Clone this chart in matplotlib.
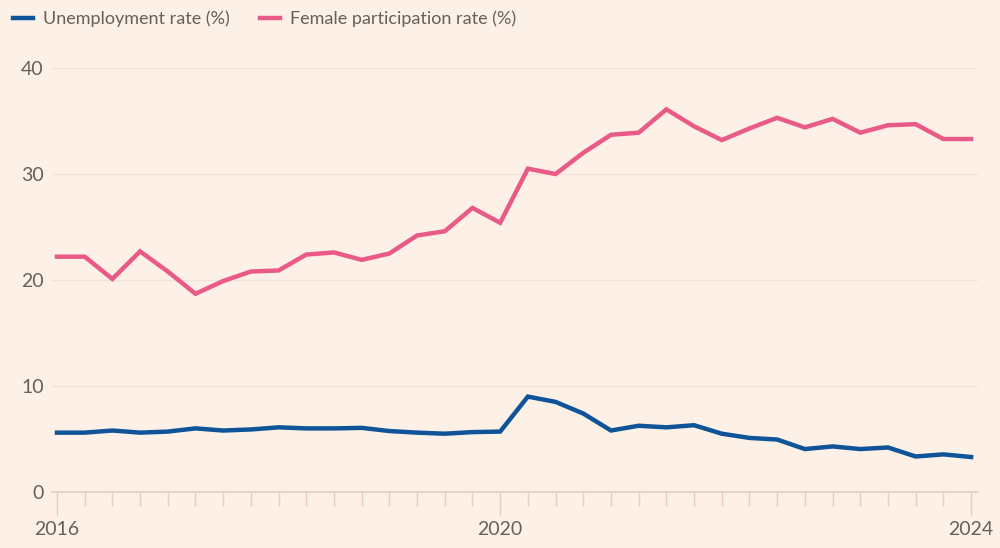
import matplotlib
matplotlib.use('Agg')
import matplotlib.pyplot as plt

# Quarterly points, 2016 onwards
quarters = list(range(34))
tick_labels = {0: '2016', 16: '2020', 33: '2024'}

unemployment = [5.6, 5.6, 5.8, 5.6, 5.7, 6.0, 5.8, 5.9, 6.1, 6.0,
                6.0, 6.05, 5.75, 5.6, 5.5, 5.65, 5.7, 9.0, 8.5, 7.4,
                5.8, 6.25, 6.1, 6.3, 5.5, 5.1, 4.95, 4.05, 4.3, 4.05,
                4.2, 3.35, 3.55, 3.3]
female_participation = [22.2, 22.2, 20.1, 22.7, 20.8, 18.7, 19.9, 20.8, 20.9, 22.4,
                        22.6, 21.9, 22.5, 24.2, 24.6, 26.8, 25.4, 30.5, 30.0, 32.0,
                        33.7, 33.9, 36.1, 34.5, 33.2, 34.3, 35.3, 34.4, 35.2, 33.9,
                        34.6, 34.7, 33.3, 33.3]

BG = '#fdf0e6'
BLUE = '#0f5499'
PINK = '#e95b86'
TEXT = '#66605c'

plt.rcParams['font.family'] = ['Lato', 'DejaVu Sans']

fig = plt.figure(figsize=(10, 5.48), dpi=100, facecolor=BG)
ax = fig.add_axes([0.052, 0.1022, 0.926, 0.7737], facecolor=BG)

ax.plot(quarters, unemployment, color=BLUE, lw=3.2, label='Unemployment rate (%)',
        solid_joinstyle='miter', zorder=3)
ax.plot(quarters, female_participation, color=PINK, lw=3.2, label='Female participation rate (%)',
        solid_joinstyle='miter', zorder=3)

ax.set_xlim(-0.18, 33.25)
ax.set_ylim(0, 40)

# horizontal gridlines
ax.set_yticks([0, 10, 20, 30, 40])
ax.yaxis.grid(True, color='#f1e4d8', lw=1)
ax.set_axisbelow(True)
ax.tick_params(axis='y', length=0, labelsize=14, labelcolor=TEXT, pad=6)

# quarterly ticks, year labels on some
ax.set_xticks(quarters, minor=True)
ax.set_xticks(list(tick_labels.keys()))
ax.set_xticklabels(list(tick_labels.values()))
ax.tick_params(axis='x', which='minor', length=10, width=1, color='#ddd1c7')
ax.tick_params(axis='x', which='major', length=17, width=1, color='#ddd1c7',
               labelsize=14, labelcolor=TEXT, pad=4)

for side in ['top', 'right', 'left']:
    ax.spines[side].set_visible(False)
ax.spines['bottom'].set_color('#ddd1c7')
ax.spines['bottom'].set_linewidth(1.2)

fig.legend(loc='upper left', bbox_to_anchor=(-0.003, 1.010), ncol=2, frameon=False,
           fontsize=13, labelcolor=TEXT, handlelength=1.1, handletextpad=0.55,
           columnspacing=1.7)

fig.savefig('out.png', dpi=100, facecolor=BG)
